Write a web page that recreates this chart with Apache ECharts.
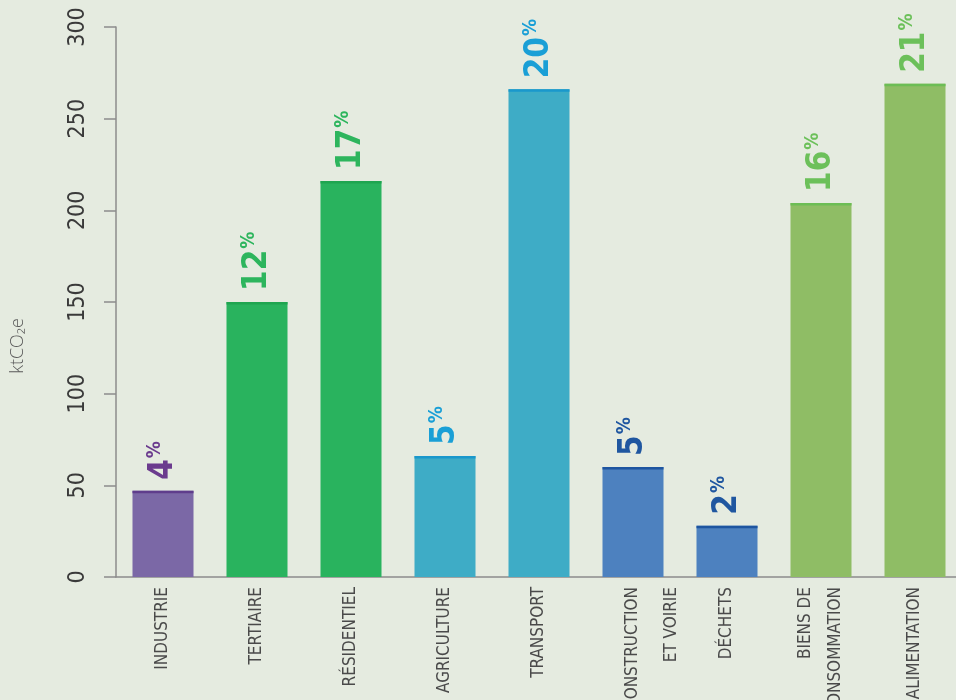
<!DOCTYPE html>
<html>
<head>
<meta charset="utf-8">
<script src="https://cdn.jsdelivr.net/npm/echarts@6/dist/echarts.min.js"></script>
<style>
  html, body { margin: 0; padding: 0; background: #e5ebe0; }
  #chart { width: 956px; height: 700px; }
</style>
</head>
<body>
<div id="chart"></div>
<script>
// emissions par secteur, ktCO2e
var categories = ['INDUSTRIE', 'TERTIAIRE', 'RÉSIDENTIEL', 'AGRICULTURE', 'TRANSPORT',
  'CONSTRUCTION\nET VOIRIE', 'DÉCHETS', 'BIENS DE\nCONSOMMATION', 'ALIMENTATION'];
var values = [47, 150, 216, 66, 266, 60, 28, 204, 269];
var shares = [4, 12, 17, 5, 20, 5, 2, 16, 21];
var yTicks = [0, 50, 100, 150, 200, 250, 300];

var barColors = ['#7b68a6', '#29b35e', '#29b35e', '#3eacc6', '#3eacc6', '#4d81bf', '#4d81bf', '#8fbd65', '#8fbd65'];
var topColors = ['#5f3d8c', '#1fa550', '#1fa550', '#1a98cc', '#1a98cc', '#1e55a0', '#1e55a0', '#6cbd55', '#6cbd55'];
var labelColors = ['#6b3b8e', '#2db55d', '#2db55d', '#1a9fd6', '#1a9fd6', '#1f56a0', '#1f56a0', '#6cc05a', '#6cc05a'];

var BAR_W = 61;
var axisFont = '"DejaVu Sans Condensed", "Liberation Sans Narrow", sans-serif';

var barData = values.map(function (v, i) {
  return {
    value: v,
    itemStyle: { color: barColors[i] },
    label: {
      show: true,
      position: 'top',
      distance: 11,
      rotate: 90,
      align: 'left',
      verticalAlign: 'middle',
      formatter: '{n|' + shares[i] + '}{s|%}',
      rich: {
        n: { fontFamily: '"DejaVu Sans Condensed", "DejaVu Sans", sans-serif', fontWeight: 'bold', fontSize: 33, color: labelColors[i], lineHeight: 34 },
        s: { fontFamily: '"DejaVu Sans Condensed", "DejaVu Sans", sans-serif', fontWeight: 'bold', fontSize: 19, color: labelColors[i], verticalAlign: 'top', padding: [0, 0, 0, 1] }
      }
    }
  };
});

// "ET VOIRIE" sits well to the right of "CONSTRUCTION"
var xData = categories.map(function (c) {
  if (c.indexOf('CONSTRUCTION') === 0) {
    return { value: c, textStyle: { lineHeight: 39 } };
  }
  return c;
});

var chart = echarts.init(document.getElementById('chart'));
chart.setOption({
  backgroundColor: '#e5ebe0',
  animation: false,
  grid: { left: 116, top: 27, width: 846, height: 550, containLabel: false, outerBoundsMode: 'none' },
  xAxis: {
    type: 'category',
    data: xData,
    axisLine: { lineStyle: { color: '#8c8c8c', width: 1.5 } },
    axisTick: { length: 7, lineStyle: { color: '#8c8c8c', width: 1.5 } },
    axisLabel: {
      rotate: 90,
      margin: 10,
      interval: 0,
      fontFamily: axisFont,
      fontSize: 17,
      lineHeight: 30,
      color: '#4a4a4a',
      formatter: function (v) {
        return v.indexOf('CONSTRUCTION') === 0 ? '\n' + v : v;
      }
    }
  },
  yAxis: {
    type: 'value',
    min: yTicks[0],
    max: yTicks[yTicks.length - 1],
    interval: 50,
    splitLine: { show: false },
    axisLine: { show: true, lineStyle: { color: '#8c8c8c', width: 1.5 } },
    axisTick: { show: true, length: 12, lineStyle: { color: '#8c8c8c', width: 1.5 } },
    axisLabel: {
      rotate: 90,
      margin: 26,
      fontFamily: axisFont,
      fontSize: 23,
      color: '#3a3a3a'
    }
  },
  graphic: [{
    type: 'text',
    x: 18,
    y: 346,
    rotation: Math.PI / 2,
    style: {
      text: 'ktCO₂e',
      fontFamily: '"Open Sans", sans-serif',
      fontWeight: 300,
      fontSize: 18,
      fill: '#5a5a5a',
      textAlign: 'center',
      textVerticalAlign: 'middle'
    }
  }],
  series: [{
    type: 'bar',
    barWidth: BAR_W,
    data: barData
  }, {
    type: 'custom',
    data: values.map(function (v, i) { return [i, v]; }),
    renderItem: function (params, api) {
      var p = api.coord([api.value(0), api.value(1)]);
      return {
        type: 'rect',
        shape: { x: p[0] - BAR_W / 2, y: p[1], width: BAR_W, height: 2.5 },
        style: { fill: topColors[params.dataIndex] }
      };
    },
    z: 3
  }]
});
</script>
</body>
</html>
